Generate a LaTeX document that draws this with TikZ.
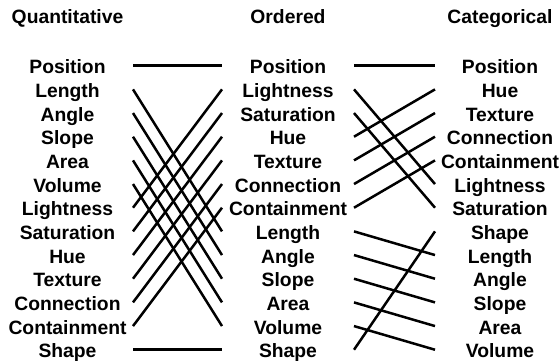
\documentclass[tikz,border=0pt]{standalone}
\usepackage{fontspec}
\setmainfont{Liberation Sans}
\begin{document}
\begin{tikzpicture}[x=1pt,y=-1pt,
  lbl/.style={font=\fontsize{19.3}{22}\selectfont\bfseries, anchor=base, inner sep=0pt},
  conn/.style={line width=2.5pt, line cap=butt}]
\useasboundingbox (0,0) rectangle (560,362);
\node[lbl] (hq) at (67.5,23) {Quantitative};
\node[lbl] (ho) at (288,23) {Ordered};
\node[lbl] (hc) at (500,23) {Categorical};
\foreach \n [count=\i] in {Position,Length,Angle,Slope,Area,Volume,Lightness,Saturation,Hue,Texture,Connection,Containment,Shape}{
  \pgfmathsetmacro\yy{66.7+23.67*(\i-1)}
  \node[lbl] (q\i) at (67.5,\yy+7) {\n};
  \coordinate (qa\i) at (133,\yy-1);
}
\foreach \n [count=\i] in {Position,Lightness,Saturation,Hue,Texture,Connection,Containment,Length,Angle,Slope,Area,Volume,Shape}{
  \pgfmathsetmacro\yy{66.7+23.67*(\i-1)}
  \node[lbl] (o\i) at (288,\yy+7) {\n};
  \coordinate (ob\i) at (222,\yy-1);
  \coordinate (oc\i) at (354,\yy-1);
}
\foreach \n [count=\i] in {Position,Hue,Texture,Connection,Containment,Lightness,Saturation,Shape,Length,Angle,Slope,Area,Volume}{
  \pgfmathsetmacro\yy{66.7+23.67*(\i-1)}
  \node[lbl] (c\i) at (500,\yy+7) {\n};
  \coordinate (cd\i) at (435,\yy-1);
}
\foreach \a/\b in {1/1,2/8,3/9,4/10,5/11,6/12,7/2,8/3,9/4,10/5,11/6,12/7,13/13}
  \draw[conn] (qa\a) -- (ob\b);
\foreach \a/\b in {1/1,2/6,3/7,4/2,5/3,6/4,7/5,8/9,9/10,10/11,11/12,12/13,13/8}
  \draw[conn] (oc\a) -- (cd\b);
\end{tikzpicture}
\end{document}
